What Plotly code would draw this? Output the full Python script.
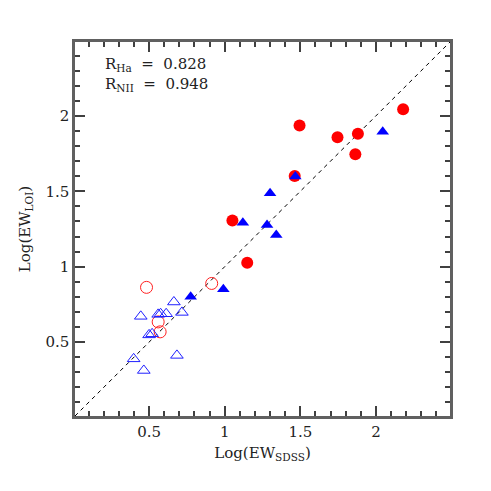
import plotly.graph_objects as go

# Axis range (both axes identical; dashed line is y = x)
AX_MIN, AX_MAX = 0.01, 2.49

# Filled red circles (Halpha)
ha_fill_x = [1.495, 1.746, 1.881, 1.864, 2.180, 1.463, 1.051, 1.149]
ha_fill_y = [1.936, 1.859, 1.881, 1.746, 2.044, 1.602, 1.307, 1.026]

# Filled blue triangles (NII)
nii_fill_x = [2.045, 1.467, 1.300, 1.120, 1.280, 1.341, 0.775, 0.991]
nii_fill_y = [1.895, 1.598, 1.487, 1.292, 1.277, 1.210, 0.801, 0.850]

# Open red circles
ha_open_x = [0.483, 0.914, 0.560, 0.573]
ha_open_y = [0.863, 0.889, 0.634, 0.568]

# Open blue triangles
nii_open_x = [0.445, 0.664, 0.560, 0.576, 0.613, 0.717, 0.500, 0.520, 0.398, 0.684, 0.465]
nii_open_y = [0.671, 0.766, 0.684, 0.688, 0.688, 0.697, 0.548, 0.555, 0.389, 0.412, 0.312]

tick_vals = [0.5, 1, 1.5, 2]
tick_text = ["0.5", "1", "1.5", "2"]
minor_step = 0.1

R_HA = "0.828"
R_NII = "0.948"

FONT = "DejaVu Serif"
FRAME = "#606060"
TICK = "#404040"
TXT = "#222222"

fig = go.Figure()

fig.add_trace(go.Scatter(x=[AX_MIN, AX_MAX], y=[AX_MIN, AX_MAX], mode="lines",
                         line=dict(color="black", width=1, dash="4px,4px"),
                         showlegend=False, hoverinfo="skip"))

fig.add_trace(go.Scatter(x=ha_open_x, y=ha_open_y, mode="markers",
                         marker=dict(symbol="circle-open", size=12, color="#ff2020",
                                     line=dict(width=1)),
                         showlegend=False))
fig.add_trace(go.Scatter(x=nii_open_x, y=nii_open_y, mode="markers",
                         marker=dict(symbol="triangle-up-open", size=11, color="#2020ff",
                                     line=dict(width=1)),
                         showlegend=False))
fig.add_trace(go.Scatter(x=ha_fill_x, y=ha_fill_y, mode="markers",
                         marker=dict(symbol="circle", size=12, color="#ff0000",
                                     line=dict(width=0)),
                         showlegend=False))
fig.add_trace(go.Scatter(x=nii_fill_x, y=nii_fill_y, mode="markers",
                         marker=dict(symbol="triangle-up", size=11, color="#0000ff",
                                     line=dict(width=0)),
                         showlegend=False))

axis_common = dict(
    range=[AX_MIN, AX_MAX],
    tickmode="array", tickvals=tick_vals, ticktext=tick_text,
    ticks="inside", ticklen=10, tickwidth=2, tickcolor=TICK,
    minor=dict(tickmode="linear", tick0=0, dtick=minor_step, ticks="inside",
               ticklen=5, tickwidth=2, tickcolor=TICK, showgrid=False),
    showline=True, linecolor=FRAME, linewidth=2.5, mirror="allticks",
    showgrid=False, zeroline=False,
    tickfont=dict(family=FONT, size=15, color=TXT),
)

# page body has an 8px default margin, so the figure is offset by (8, 8)
fig.update_layout(
    width=483, height=483,
    margin=dict(l=67, r=41, t=34, b=75),
    plot_bgcolor="white", paper_bgcolor="white",
    xaxis=dict(**axis_common,
               title=dict(text="Log(EW<sub>SDSS</sub>)", standoff=8,
                          font=dict(family=FONT, size=15, color=TXT))),
    yaxis=dict(**axis_common,
               title=dict(text="Log(EW<sub>LOI</sub>)", standoff=12,
                          font=dict(family=FONT, size=15, color=TXT))),
    annotations=[
        dict(x=0.075, y=0.94, xref="x domain", yref="y domain", xanchor="left",
             yanchor="middle", showarrow=False,
             text="R<sub>Ha</sub>&nbsp; =&nbsp; " + R_HA,
             font=dict(family=FONT, size=15, color=TXT)),
        dict(x=0.075, y=0.887, xref="x domain", yref="y domain", xanchor="left",
             yanchor="middle", showarrow=False,
             text="R<sub>NII</sub>&nbsp; =&nbsp; " + R_NII,
             font=dict(family=FONT, size=15, color=TXT)),
    ],
)

fig.write_html("out.html")
